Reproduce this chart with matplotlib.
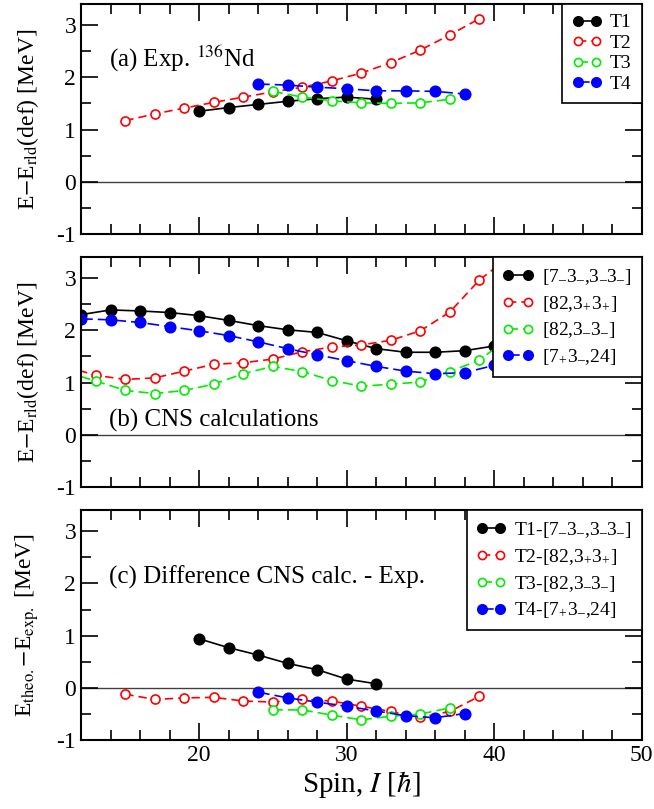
"""
Energies relative to rigid rotor reference, 136Nd bands vs CNS calculations
"""
import matplotlib
matplotlib.use("Agg")
import matplotlib.pyplot as plt
from matplotlib.ticker import MultipleLocator
import numpy as np

plt.rcParams["font.family"] = ["Liberation Serif", "DejaVu Serif"]
plt.rcParams["mathtext.fontset"] = "stix"
plt.rcParams["axes.unicode_minus"] = False

# ---- panel (a): experiment ----
exp_t1_spin = [20, 22, 24, 26, 28, 30, 32]
exp_t1_e = [1.35, 1.42, 1.48, 1.54, 1.59, 1.62, 1.58]
exp_t2_spin = [15, 17, 19, 21, 23, 25, 27, 29, 31, 33, 35, 37, 39]
exp_t2_e = [1.17, 1.30, 1.41, 1.52, 1.62, 1.72, 1.81, 1.93, 2.08, 2.28, 2.52, 2.81, 3.12]
exp_t3_spin = [25, 27, 29, 31, 33, 35, 37]
exp_t3_e = [1.73, 1.62, 1.55, 1.51, 1.50, 1.51, 1.58]
exp_t4_spin = [24, 26, 28, 30, 32, 34, 36, 38]
exp_t4_e = [1.87, 1.85, 1.81, 1.78, 1.74, 1.74, 1.73, 1.68]

# ---- panel (b): CNS calculations ----
cns_1_spin = [12, 14, 16, 18, 20, 22, 24, 26, 28, 30, 32, 34, 36, 38, 40, 42]
cns_1_e = [2.30, 2.39, 2.37, 2.34, 2.28, 2.19, 2.09, 2.01, 1.96, 1.80, 1.65, 1.58, 1.58, 1.61, 1.70, 1.88]
cns_2_spin = [11, 13, 15, 17, 19, 21, 23, 25, 27, 29, 31, 33, 35, 37, 39, 41]
cns_2_e = [1.30, 1.14, 1.06, 1.09, 1.22, 1.35, 1.38, 1.45, 1.59, 1.68, 1.72, 1.81, 1.99, 2.35, 2.96, 3.40]
cns_3_spin = [11, 13, 15, 17, 19, 21, 23, 25, 27, 29, 31, 33, 35, 37, 39, 41]
cns_3_e = [1.20, 1.03, 0.85, 0.79, 0.85, 0.97, 1.17, 1.31, 1.21, 1.04, 0.93, 0.97, 1.01, 1.21, 1.43, 1.85]
cns_4_spin = [12, 14, 16, 18, 20, 22, 24, 26, 28, 30, 32, 34, 36, 38, 40, 42]
cns_4_e = [2.22, 2.20, 2.15, 2.07, 1.99, 1.90, 1.78, 1.65, 1.53, 1.42, 1.31, 1.22, 1.17, 1.19, 1.33, 1.58]

# ---- panel (c): difference ----
dif_1_spin = [20, 22, 24, 26, 28, 30, 32]
dif_1_e = [0.94, 0.77, 0.63, 0.47, 0.35, 0.17, 0.08]
dif_2_spin = [15, 17, 19, 21, 23, 25, 27, 29, 31, 33, 35, 37, 39]
dif_2_e = [-0.12, -0.22, -0.19, -0.18, -0.25, -0.27, -0.22, -0.25, -0.35, -0.45, -0.56, -0.45, -0.16]
dif_3_spin = [25, 27, 29, 31, 33, 35, 37]
dif_3_e = [-0.42, -0.42, -0.52, -0.61, -0.54, -0.50, -0.38]
dif_4_spin = [24, 26, 28, 30, 32, 34, 36, 38]
dif_4_e = [-0.08, -0.19, -0.27, -0.35, -0.44, -0.53, -0.57, -0.49]

# subscript signs as small dash / plus
M = r"$_{\mathdefault{–}}$"
P = r"$_{\mathdefault{+}}$"
labels_a = ["T1", "T2", "T3", "T4"]
labels_b = ["[7" + M + "3" + M + ",3" + M + "3" + M + "]",
            "[82,3" + P + "3" + P + "]",
            "[82,3" + M + "3" + M + "]",
            "[7" + P + "3" + M + ",24]"]
labels_c = ["T1-" + labels_b[0], "T2-" + labels_b[1],
            "T3-" + labels_b[2], "T4-" + labels_b[3]]

# line styles for the four series: colour, filled marker, dashes
styles = [
    dict(color="black", mfc="black", ms=7.5, ls="-"),
    dict(color="red", mfc="white", ms=6.5, ls=(0, (5, 3))),
    dict(color="#00ee00", mfc="white", ms=6.5, ls=(0, (6, 3))),
    dict(color="blue", mfc="blue", ms=7.5, ls=(0, (7, 3))),
]


def draw_panel(ax, series, labels, hlen, lspace):
    ax.axhline(0, color="0.25", lw=1.0, zorder=1)
    for (x, y), st, lab in zip(series, styles, labels):
        ax.plot(x, y, marker="o", lw=1.2, mec=st["color"], mew=1.2,
                label=lab, clip_on=True, **st)
    leg = ax.legend(loc="upper right", borderaxespad=0, fancybox=False,
                    edgecolor="black", framealpha=1, fontsize=14,
                    numpoints=2, handlelength=hlen, handletextpad=0.45,
                    borderpad=0.5, labelspacing=lspace, markerscale=0.9)
    leg.get_frame().set_linewidth(1.2)
    ax.set_xlim(12, 50)
    ax.set_ylim(-1, 3.4)
    ax.xaxis.set_major_locator(MultipleLocator(10))
    ax.xaxis.set_minor_locator(MultipleLocator(2))
    ax.yaxis.set_major_locator(MultipleLocator(1))
    ax.yaxis.set_minor_locator(MultipleLocator(0.5))
    ax.tick_params(which="both", direction="in", top=True, right=True,
                   labelsize=17, width=1.2)
    ax.tick_params(which="major", length=12)
    ax.tick_params(which="minor", length=7)
    for sp in ax.spines.values():
        sp.set_linewidth(1.5)


fig, axes = plt.subplots(3, 1, figsize=(6.54, 8.09), dpi=100, sharex=True,
                         gridspec_kw=dict(hspace=0.1))
fig.subplots_adjust(left=0.124, right=0.981, top=0.995, bottom=0.085)

draw_panel(axes[0], [(exp_t1_spin, exp_t1_e), (exp_t2_spin, exp_t2_e),
                     (exp_t3_spin, exp_t3_e), (exp_t4_spin, exp_t4_e)], labels_a, 1.5, 0.15)
draw_panel(axes[1], [(cns_1_spin, cns_1_e), (cns_2_spin, cns_2_e),
                     (cns_3_spin, cns_3_e), (cns_4_spin, cns_4_e)], labels_b, 1.6, 0.35)
draw_panel(axes[2], [(dif_1_spin, dif_1_e), (dif_2_spin, dif_2_e),
                     (dif_3_spin, dif_3_e), (dif_4_spin, dif_4_e)], labels_c, 1.5, 0.35)

axes[0].text(0.05, 0.76, r"(a) Exp. $^{136}$Nd", transform=axes[0].transAxes,
             fontsize=18, va="center")
axes[1].text(0.05, 0.29, "(b) CNS calculations", transform=axes[1].transAxes,
             fontsize=18, va="center")
axes[2].text(0.05, 0.71, "(c) Difference CNS calc. - Exp.", transform=axes[2].transAxes,
             fontsize=18, va="center")

axes[0].set_ylabel(r"E$-$E$_{\rm rld}$(def) [MeV]", fontsize=17)
axes[1].set_ylabel(r"E$-$E$_{\rm rld}$(def) [MeV]", fontsize=17)
axes[2].set_ylabel(r"E$_{\rm theo.}$$-$E$_{\rm exp.}$ [MeV]", fontsize=17)
axes[2].set_xlabel(r"Spin, $I$ [$\hbar$]", fontsize=21, labelpad=2)
for ax in axes:
    ax.yaxis.set_label_coords(-0.072, 0.5)

fig.savefig("out.png", dpi=100)
